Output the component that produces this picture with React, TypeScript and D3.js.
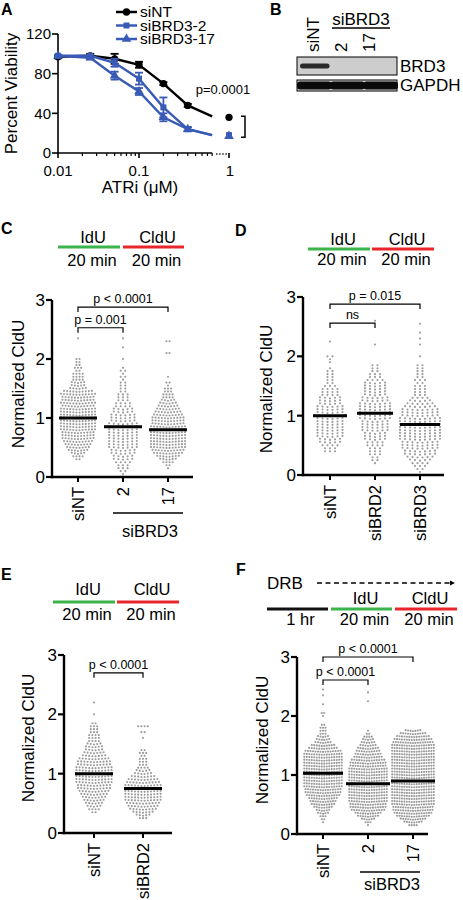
import React from 'react';
import * as d3 from 'd3';

const FONT = "'Liberation Sans', Arial, Helvetica, sans-serif";
const BLUE = '#3a5bb5';
const GREEN = '#3cb44b';
const RED = '#e8262b';
const DOT = '#9a9a9a';

// ---------- Panel A data ----------
const doses = [0.01, 0.025, 0.05, 0.1, 0.2, 0.4, 0.8];
const viabNT = [97, 98, 95, 89, 70, 48, 37];
const errNT = [1.5, 2, 5, 3, 1.5, 1.5, 0];
const viabBRD3_2 = [98, 98, 91, 75, 46, 24, 18];
const errBRD3_2 = [1, 1, 4, 6, 10, 2, 0];
const viabBRD3_17 = [98, 96, 78, 62, 36, 24, 18];
const errBRD3_17 = [1, 1.5, 4, 3.5, 4, 2, 0];
const doseBreak = 1;
const viabAtBreak = [36, 18, 17];
const viabTicks = [0, 40, 80, 120];
const doseTicks = [0.01, 0.1];
const legendLabels = ['siNT', 'siBRD3-2', 'siBRD3-17'];

// ---------- Panel B data ----------
const blotLanes = ['siNT', '2', '17'];
const brd3Signal = [1, 0, 0];
const gapdhSignal = [1, 1, 1];

// ---------- Fiber assay data: dots per 0.05 bin, starting at 0 ----------
const BIN = 0.05;
const C_siNT = [0,0,0,0,0,0,2,4,5,7,8,9,10,11,11,11,12,12,12,12,12,12,12,12,11,12,11,11,12,10,6,5,5,4,4,4,2,3,2,2,2,0,0,0,0,0,0,1];
const C_si2 = [0,1,2,3,3,4,5,5,6,6,7,7,7,7,7,7,7,7,7,6,6,6,5,5,4,4,3,3,3,2,2,2,2,1,2,1,2,1,0,0,1,0,0,0,1,0,0,1];
const C_si17 = [0,0,0,1,2,4,6,8,10,11,12,12,12,12,12,12,12,12,11,11,11,10,9,8,7,6,5,4,4,3,3,1,2,0,1,0,0,0,0,0,0,0,2,0,0,0,2];
const C_medians = [1.0, 0.85, 0.8];
const C_cats = ['siNT', '2', '17'];

const D_siNT = [0,0,0,0,0,0,0,0,3,3,4,5,5,6,6,6,6,6,6,6,7,6,6,6,5,5,5,4,4,4,3,2,2,2,2,2,1,0,1,1,2,0,0,0,0,1];
const D_si2 = [0,0,0,0,1,2,2,3,3,3,4,4,5,5,5,6,6,6,6,7,7,7,7,7,7,6,6,5,5,5,5,5,4,3,3,2,2,2,0,0,0,0,0,0,1,0,0,0,0,0,0,0,1];
const D_si3 = [0,1,2,3,4,5,6,7,7,8,8,8,9,9,9,9,9,9,9,9,8,8,8,7,6,5,4,3,3,3,3,2,3,2,2,2,2,2,0,0,1,0,0,0,1,0,1,0,1,0,0,1];
const D_medians = [1.0, 1.04, 0.85];
const D_cats = ['siNT', 'siBRD2', 'siBRD3'];

const E_siNT = [0,0,0,0,0,0,0,2,4,5,6,7,8,9,10,11,11,12,12,12,12,12,12,11,11,10,8,7,6,6,5,4,4,4,3,3,3,2,0,0,1,0,0,0,1];
const E_si2 = [0,0,0,0,0,3,5,7,9,10,11,12,12,12,12,12,12,11,10,8,6,5,4,3,3,3,2,3,2,0,0,0,1,0,2,0,4];
const E_medians = [1.0, 0.75];
const E_cats = ['siNT', 'siBRD2'];

const F_siNT = [0,0,0,0,1,2,3,5,6,8,10,11,12,14,15,15,16,16,16,16,16,16,16,16,16,16,16,16,15,12,10,7,6,5,3,3,3,2,0,0,1,2,0,0,1,0,0,1,0,1];
const F_si2 = [0,0,0,1,3,6,9,11,14,15,15,16,16,16,16,16,16,16,16,16,16,16,16,15,15,14,12,11,10,9,7,6,5,4,2,1,0,0,0,0,0,0,0,0,0,1,0,0,1];
const F_si17 = [0,0,0,4,8,11,14,16,17,17,18,18,18,18,18,18,18,18,18,18,18,18,18,18,18,18,18,18,18,18,18,17,16,14,11,7];
const F_medians = [1.03, 0.85, 0.9];
const F_cats = ['siNT', '2', '17'];

const cldTicks = [0, 1, 2, 3];

// ---------- Panel A ----------
function PanelA() {
  const x = d3.scaleLog().domain([0.01, 1]).range([58, 220]);
  const xB = d3.scaleLinear().domain([0.9, 1.1]).range([219, 239]);
  const y = d3.scaleLinear().domain([0, 120]).range([153, 34]);
  const series = [
    { vals: viabNT, errs: errNT, color: '#000', sym: d3.symbolCircle, size: 42 },
    { vals: viabBRD3_2, errs: errBRD3_2, color: BLUE, sym: d3.symbolSquare, size: 36 },
    { vals: viabBRD3_17, errs: errBRD3_17, color: BLUE, sym: d3.symbolTriangle, size: 40 },
  ];
  const line = d3.line<number>().x((_, i) => x(doses[i])).y((v) => y(v));
  const minor: number[] = [];
  [0.01, 0.1].forEach((d) => { for (let k = 2; k <= 9; k++) { const v = d * k; if (v <= 0.8001) minor.push(v); } });
  const legendY = [12, 25.5, 39];
  return (
    <g fontFamily={FONT}>
      <text x={1} y={15} fontSize={16} fontWeight="bold">A</text>
      {series.map((s, i) => (
        <g key={i}>
          <line x1={116} x2={137} y1={legendY[i]} y2={legendY[i]} stroke={s.color} strokeWidth={2.5} />
          <path d={d3.symbol().type(s.sym).size(s.size)() as string} transform={`translate(126.5,${legendY[i]})`} fill={s.color} />
          <text x={140} y={legendY[i]} dy="0.35em" fontSize={15.5}>{legendLabels[i]}</text>
        </g>
      ))}
      <line x1={58} x2={58} y1={y(0)} y2={y(120)} stroke="#000" strokeWidth={1.6} />
      <line x1={58} x2={x(0.8)} y1={y(0)} y2={y(0)} stroke="#000" strokeWidth={1.6} />
      <line x1={x(0.8) + 4} x2={xB(1) - 2} y1={y(0) + 1} y2={y(0) + 1} stroke="#000" strokeWidth={1.6} strokeDasharray="1.3,1.8" />
      {viabTicks.map((t) => (
        <g key={t}>
          <line x1={52} x2={58} y1={y(t)} y2={y(t)} stroke="#000" strokeWidth={1.6} />
          <text x={51} y={y(t)} dy="0.36em" textAnchor="end" fontSize={15}>{t}</text>
        </g>
      ))}
      {doseTicks.map((t) => (
        <g key={t}>
          <line x1={x(t)} x2={x(t)} y1={y(0)} y2={y(0) + 5} stroke="#000" strokeWidth={1.6} />
          <text x={x(t)} y={176} textAnchor="middle" fontSize={15}>{t}</text>
        </g>
      ))}
      {minor.map((t) => (
        <line key={t} x1={x(t)} x2={x(t)} y1={y(0)} y2={y(0) + 3} stroke="#000" strokeWidth={1.2} />
      ))}
      <line x1={xB(1)} x2={xB(1)} y1={y(0)} y2={y(0) + 5} stroke="#000" strokeWidth={1.6} />
      <text x={xB(1) + 1} y={176} textAnchor="middle" fontSize={15}>{doseBreak}</text>
      <text x={140} y={193} textAnchor="middle" fontSize={17}>ATRi (μM)</text>
      <text transform={`translate(11,${y(60)}) rotate(-90)`} textAnchor="middle" dy="0.35em" fontSize={17}>Percent Viability</text>
      {series.map((s, si) => (
        <g key={si}>
          <path d={line(s.vals) as string} fill="none" stroke={s.color} strokeWidth={2.4} />
          {s.vals.map((v, i) => i < doses.length - 1 && (
            <g key={i}>
              {s.errs[i] > 0 && (
                <g stroke={s.color} strokeWidth={1.8}>
                  <line x1={x(doses[i])} x2={x(doses[i])} y1={y(v - s.errs[i])} y2={y(v + s.errs[i])} />
                  <line x1={x(doses[i]) - 4} x2={x(doses[i]) + 4} y1={y(v - s.errs[i])} y2={y(v - s.errs[i])} />
                  <line x1={x(doses[i]) - 4} x2={x(doses[i]) + 4} y1={y(v + s.errs[i])} y2={y(v + s.errs[i])} />
                </g>
              )}
              <path d={d3.symbol().type(s.sym).size(s.size)() as string} transform={`translate(${x(doses[i])},${y(v)})`} fill={s.color} />
            </g>
          ))}
          <path d={d3.symbol().type(s.sym).size(s.size)() as string} transform={`translate(${xB(doseBreak)},${y(viabAtBreak[si])})`} fill={s.color} />
        </g>
      ))}
      <text x={223} y={94} textAnchor="middle" fontSize={13}>p=0.0001</text>
      <path d={`M${xB(1) + 12},${y(viabAtBreak[0]) - 1}h4V${y(viabAtBreak[1]) + 2}h-4`} fill="none" stroke="#000" strokeWidth={1.5} />
    </g>
  );
}

// ---------- Panel B ----------
function PanelB() {
  const lanes = d3.scaleBand().domain(blotLanes).range([298, 396]).paddingInner(0.05);
  const labelX = d3.scalePoint().domain(blotLanes).range([312, 368]);
  return (
    <g fontFamily={FONT}>
      <text x={270} y={15} fontSize={16} fontWeight="bold">B</text>
      {blotLanes.map((l) => (
        <text key={l} transform={`translate(${(labelX(l) as number) + 1},52) rotate(-90)`} dy="0.35em" fontSize={17}>{l}</text>
      ))}
      <text x={361} y={25} textAnchor="middle" fontSize={17}>siBRD3</text>
      <line x1={332} x2={390} y1={28} y2={28} stroke="#000" strokeWidth={1.3} />
      <rect x={297} y={57} width={100} height={18} fill="#cdcdcd" stroke="#000" strokeWidth={1} />
      {blotLanes.map((l, i) => brd3Signal[i] > 0 && (
        <rect key={l} x={(lanes(l) as number) + 2} y={63.5} width={lanes.bandwidth() - 2} height={5} rx={2.5} fill="#2a2a2a" opacity={brd3Signal[i]} />
      ))}
      <rect x={297} y={80} width={100} height={11} fill="#d5d5d5" stroke="#000" strokeWidth={1} />
      {blotLanes.map((l, i) => (
        <rect key={l} x={(lanes(l) as number) - 1} y={81.5} width={lanes.bandwidth() + 3} height={8} rx={3} fill="#0a0a0a" opacity={gapdhSignal[i]} />
      ))}
      <text x={400} y={72} fontSize={17}>BRD3</text>
      <text x={400} y={91} fontSize={17}>GAPDH</text>
    </g>
  );
}

// ---------- Timeline ----------
type Seg = { x1: number; x2: number; color: string; top?: string; bottom: string };
function Timeline({ segs, y, topY, botY }: { segs: Seg[]; y: number; topY: number; botY: number }) {
  return (
    <g fontFamily={FONT}>
      {segs.map((s, i) => (
        <g key={i}>
          <line x1={s.x1} x2={s.x2} y1={y} y2={y} stroke={s.color} strokeWidth={3} />
          {s.top && <text x={(s.x1 + s.x2) / 2 + 4} y={topY} textAnchor="middle" fontSize={16.5}>{s.top}</text>}
          <text x={(s.x1 + s.x2) / 2 + 3} y={botY} textAnchor="middle" fontSize={16.5}>{s.bottom}</text>
        </g>
      ))}
    </g>
  );
}

// ---------- Swarm panel ----------
type Bracket = { a: number; b: number; v: number; label: string };
type SwarmCfg = {
  axisX: number; y0: number; y3: number; xEnd: number;
  cats: string[]; catRange: [number, number];
  groups: number[][]; dx: number[]; r: number; medians: number[]; medHalf: number[];
  brackets: Bracket[];
  title: [number, number];
  under?: { x1: number; x2: number; y: number; textY: number; label: string };
};

function Swarm({ c }: { c: SwarmCfg }) {
  const y = d3.scaleLinear().domain([0, 3]).range([c.y0, c.y3]);
  const x = d3.scalePoint<string>().domain(c.cats).range(c.catRange);
  const dots: { x: number; y: number }[] = [];
  c.groups.forEach((counts, gi) => {
    const cx = x(c.cats[gi]) as number;
    counts.forEach((n, bi) => {
      const v = bi * BIN;
      const half = Math.max(1, (n - 1) / 2);
      for (let k = 0; k < n; k++) {
        const off = k - (n - 1) / 2;
        // within-bin spread: outer points of a row sit slightly higher (Prism layout)
        const bow = n > 4 ? (Math.abs(off) / half) * 1.1 : 0;
        dots.push({ x: cx + off * c.dx[gi], y: y(v) - bow + (n > 4 ? 0.5 : 0) });
      }
    });
  });
  return (
    <g fontFamily={FONT}>
      {dots.map((d, i) => <circle key={i} cx={d.x} cy={d.y} r={c.r} fill={DOT} />)}
      {c.medians.map((m, i) => {
        const cx = x(c.cats[i]) as number;
        return <line key={i} x1={cx - c.medHalf[i]} x2={cx + c.medHalf[i]} y1={y(m)} y2={y(m)} stroke="#000" strokeWidth={3} />;
      })}
      <line x1={c.axisX} x2={c.axisX} y1={c.y0 + 1.2} y2={y(3)} stroke="#000" strokeWidth={2.4} />
      <line x1={c.axisX - 1.2} x2={c.xEnd} y1={c.y0} y2={c.y0} stroke="#000" strokeWidth={2.4} />
      {cldTicks.map((t) => (
        <g key={t}>
          <line x1={c.axisX - 6} x2={c.axisX} y1={y(t)} y2={y(t)} stroke="#000" strokeWidth={2.2} />
          <text x={c.axisX - 7} y={y(t)} dy="0.36em" textAnchor="end" fontSize={17}>{t}</text>
        </g>
      ))}
      {c.cats.map((cat) => {
        const cx = x(cat) as number;
        return (
          <g key={cat}>
            <line x1={cx} x2={cx} y1={c.y0} y2={c.y0 + 5} stroke="#000" strokeWidth={2} />
            <text transform={`translate(${cx},${c.y0 + 10}) rotate(-90)`} dy="0.36em" textAnchor="end" fontSize={16.5}>{cat}</text>
          </g>
        );
      })}
      {c.brackets.map((b, i) => {
        const xa = x(c.cats[b.a]) as number;
        const xb = x(c.cats[b.b]) as number;
        const yy = y(b.v);
        return (
          <g key={i}>
            <path d={`M${xa},${yy + 5}V${yy}H${xb}V${yy + 5}`} fill="none" stroke="#000" strokeWidth={1.2} />
            <text x={(xa + xb) / 2} y={yy - 4} textAnchor="middle" fontSize={12.5}>{b.label}</text>
          </g>
        );
      })}
      <text transform={`translate(${c.title[0]},${c.title[1]}) rotate(-90)`} dy="0.35em" textAnchor="middle" fontSize={17}>Normalized CldU</text>
      {c.under && (
        <g>
          <line x1={c.under.x1} x2={c.under.x2} y1={c.under.y} y2={c.under.y} stroke="#000" strokeWidth={1.5} />
          <text x={(c.under.x1 + c.under.x2) / 2 + 2} y={c.under.textY} textAnchor="middle" fontSize={16.5}>{c.under.label}</text>
        </g>
      )}
    </g>
  );
}

const cfgC: SwarmCfg = {
  axisX: 52, y0: 477, y3: 300, xEnd: 193, cats: C_cats, catRange: [78, 168],
  groups: [C_siNT, C_si2, C_si17], dx: [3.1, 4.6, 3.1], r: 1.05, medians: C_medians, medHalf: [19, 19, 19],
  brackets: [{ a: 0, b: 1, v: 2.53, label: 'p = 0.001' }, { a: 0, b: 2, v: 2.88, label: 'p < 0.0001' }],
  title: [18, 384], under: { x1: 113, x2: 183, y: 513, textY: 537, label: 'siBRD3' },
};
const cfgD: SwarmCfg = {
  axisX: 303, y0: 475, y3: 297, xEnd: 444, cats: D_cats, catRange: [330, 420],
  groups: [D_siNT, D_si2, D_si3], dx: [5, 5, 5], r: 1.05, medians: D_medians, medHalf: [17, 18, 20],
  brackets: [{ a: 0, b: 1, v: 2.56, label: 'ns' }, { a: 0, b: 2, v: 2.88, label: 'p = 0.015' }],
  title: [266, 389],
};
const cfgE: SwarmCfg = {
  axisX: 64, y0: 833, y3: 655, xEnd: 172, cats: E_cats, catRange: [94, 143],
  groups: [E_siNT, E_si2], dx: [3.2, 3.2], r: 1.05, medians: E_medians, medHalf: [19, 19],
  brackets: [{ a: 0, b: 1, v: 2.7, label: 'p < 0.0001' }],
  title: [28, 738],
};
const cfgF: SwarmCfg = {
  axisX: 297, y0: 834, y3: 657, xEnd: 428, cats: F_cats, catRange: [323, 413],
  groups: [F_siNT, F_si2, F_si17], dx: [2.5, 2.5, 2.45], r: 1.05, medians: F_medians, medHalf: [20, 22, 22],
  brackets: [{ a: 0, b: 1, v: 2.61, label: 'p < 0.0001' }, { a: 0, b: 2, v: 3.0, label: 'p < 0.0001' }],
  title: [262, 740], under: { x1: 360, x2: 420, y: 872, textY: 890, label: 'siBRD3' },
};

export default function App() {
  return (
    <svg width={463} height={900} style={{ position: 'absolute', left: 0, top: 0, background: '#fff' }}>
      <rect width={463} height={900} fill="#fff" />
      <PanelA />
      <PanelB />
      <g fontFamily={FONT}>
        <text x={1} y={234} fontSize={16} fontWeight="bold">C</text>
        <text x={235} y={236} fontSize={16} fontWeight="bold">D</text>
        <text x={1} y={580} fontSize={16} fontWeight="bold">E</text>
        <text x={236} y={575} fontSize={16} fontWeight="bold">F</text>
      </g>
      <Timeline y={247} topY={243} botY={266} segs={[
        { x1: 58, x2: 120, color: GREEN, top: 'IdU', bottom: '20 min' },
        { x1: 123, x2: 184, color: RED, top: 'CldU', bottom: '20 min' },
      ]} />
      <Timeline y={249} topY={245} botY={265} segs={[
        { x1: 308, x2: 370, color: GREEN, top: 'IdU', bottom: '20 min' },
        { x1: 372, x2: 434, color: RED, top: 'CldU', bottom: '20 min' },
      ]} />
      <Timeline y={602} topY={595} botY={620} segs={[
        { x1: 53, x2: 115, color: GREEN, top: 'IdU', bottom: '20 min' },
        { x1: 117, x2: 179, color: RED, top: 'CldU', bottom: '20 min' },
      ]} />
      <Timeline y={609} topY={604} botY={625} segs={[
        { x1: 267, x2: 328, color: '#111', bottom: '1 hr' },
        { x1: 331, x2: 392, color: GREEN, top: 'IdU', bottom: '20 min' },
        { x1: 395, x2: 457, color: RED, top: 'CldU', bottom: '20 min' },
      ]} />
      <g fontFamily={FONT}>
        <text x={267} y={589} fontSize={17}>DRB</text>
        <line x1={317} x2={451} y1={583} y2={583} stroke="#000" strokeWidth={1.4} strokeDasharray="5,3.5" />
        <path d="M450,580.5L455,583L450,585.5Z" fill="#000" />
      </g>
      <Swarm c={cfgC} />
      <Swarm c={cfgD} />
      <Swarm c={cfgE} />
      <Swarm c={cfgF} />
    </svg>
  );
}
